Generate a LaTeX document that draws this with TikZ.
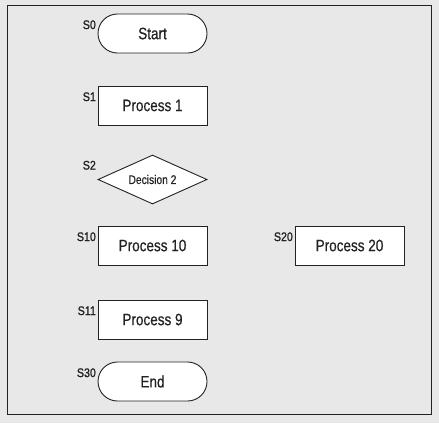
\documentclass[tikz,border=0pt]{standalone}
\usepackage{fontspec}
\setmainfont[FakeStretch=0.82]{Liberation Sans}
\newfontfamily\nodefont[FakeStretch=0.82,FakeBold=0.5]{Liberation Sans}
\newfontfamily\lblfont[FakeStretch=0.85,FakeBold=1.2]{Liberation Sans}
\usetikzlibrary{shapes.geometric,calc}
\definecolor{bg}{HTML}{E8E8E8}
\definecolor{ink}{HTML}{222222}
\begin{document}
\begin{tikzpicture}[x=1bp,y=-1bp,
  box/.style={draw=ink,fill=white,line width=0.9bp,minimum width=109bp,minimum height=39bp,inner sep=0pt,text=ink,font=\nodefont\fontsize{16.5bp}{19bp}\selectfont},
  stadium/.style={box,rounded corners=19.5bp},
  decide/.style={diamond,shape aspect=2.2,draw=ink,fill=white,line width=0.9bp,minimum width=109bp,minimum height=49bp,inner sep=0pt,text=ink,font=\nodefont\fontsize{12.5bp}{14bp}\selectfont},
  lbl/.style={anchor=base east,inner sep=0pt,text=ink,font=\lblfont\fontsize{12.5bp}{14bp}\selectfont}]
\useasboundingbox (0,0) rectangle (439,423);
\fill[bg] (0,0) rectangle (439,423);
\draw[ink,line width=0.9bp] (7.5,5.5) rectangle (431,414.5);
\node[stadium] (s0) at (152.5,33.5) {Start};
\node[box] (s1) at (152.5,105.5) {Process 1};
\node[decide] (s2) at (152.5,179.5) {Decision 2};
\node[box] (s10) at (152.5,245.5) {Process 10};
\node[box] (s20) at (349.5,245.5) {Process 20};
\node[box] (s11) at (152.5,319.5) {Process 9};
\node[stadium] (s30) at (152.5,381.5) {End};
\node[lbl] (l0) at ($(s0.north west)+(-1.5,15.5)$) {S0};
\node[lbl] (l1) at ($(s1.north west)+(-1.5,15.5)$) {S1};
\node[lbl] (l2) at ($(s2.west |- s2.north)+(-1.5,15)$) {S2};
\node[lbl] (l10) at ($(s10.north west)+(-1.5,15.5)$) {S10};
\node[lbl] (l20) at ($(s20.north west)+(-1.5,15.5)$) {S20};
\node[lbl] (l11) at ($(s11.north west)+(-1.5,15.5)$) {S11};
\node[lbl] (l30) at ($(s30.north west)+(-1.5,15.5)$) {S30};
\end{tikzpicture}
\end{document}
